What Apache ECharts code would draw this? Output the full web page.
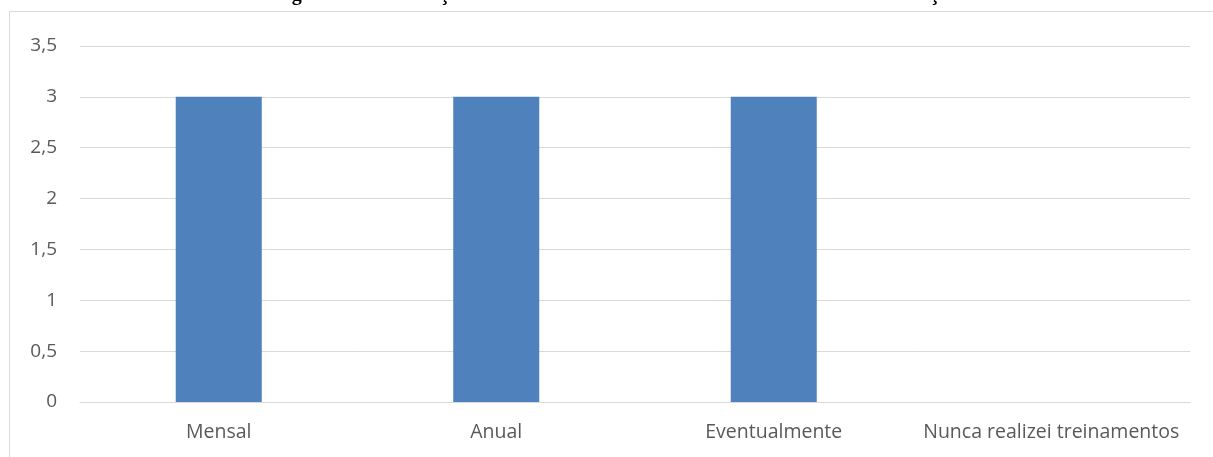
<!DOCTYPE html>
<html><head><meta charset="utf-8">
<script src="https://cdn.jsdelivr.net/npm/echarts@6/dist/echarts.min.js"></script>
<style>html,body{margin:0;padding:0;background:#fff}#c{width:1213px;height:457px}</style>
</head><body><div id="c"></div>
<script>
const categories = ['Mensal', 'Anual', 'Eventualmente', 'Nunca realizei treinamentos'];
const values = [3, 3, 3, 0];
const titleText = 'Figura 12 – Realização de treinamentos sobre os temas realizados nas instituições';

const chart = echarts.init(document.getElementById('c'));
chart.setOption({
  animation: false,
  backgroundColor: '#fff',
  graphic: [
    { type: 'rect', shape: { x: 9.5, y: 11.5, width: 1300, height: 500 },
      style: { fill: 'none', stroke: '#d9d9d9', lineWidth: 1 }, silent: true },
    { type: 'text', x: 274, y: -15,
      style: { text: titleText, font: 'bold 20px "Liberation Serif"', fill: '#000' } }
  ],
  grid: { left: 80, right: 23, top: 46, bottom: 55 },
  xAxis: {
    type: 'category', data: categories,
    axisLine: { lineStyle: { color: '#d9d9d9' } },
    axisTick: { show: false },
    axisLabel: { color: '#595959', fontSize: 19.5, fontFamily: 'Open Sans', margin: 20, interval: 0 }
  },
  yAxis: {
    type: 'value', min: 0, max: 3.5, interval: 0.5,
    axisLine: { show: false }, axisTick: { show: false },
    splitLine: { lineStyle: { color: '#d9d9d9' } },
    axisLabel: { color: '#595959', fontSize: 19, fontFamily: 'Open Sans', margin: 23,
      formatter: v => String(v).replace('.', ',') }
  },
  series: [{ type: 'bar', data: values, barWidth: '31%', itemStyle: { color: '#4f81bd' } }]
});
</script></body></html>
